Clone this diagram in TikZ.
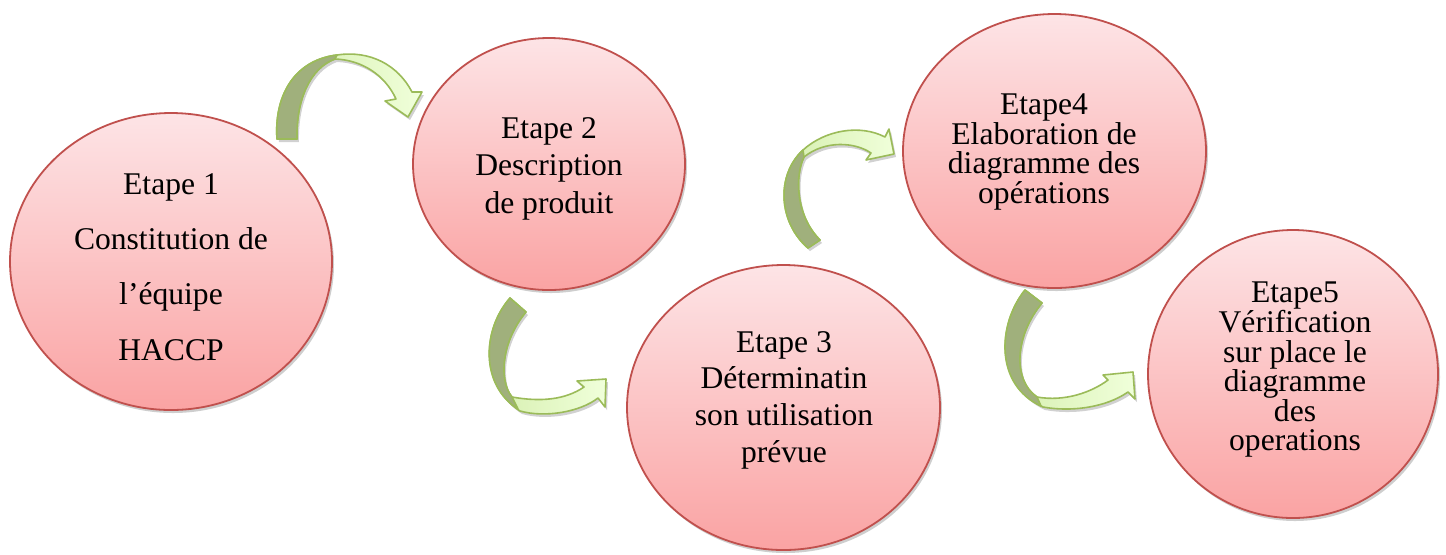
\documentclass[tikz,border=0pt]{standalone}
\usepackage{fontspec}
\setmainfont{Liberation Serif}
\usetikzlibrary{shapes.geometric}
\definecolor{cborder}{RGB}{192,80,77}
\definecolor{ctop}{RGB}{253,228,230}
\definecolor{cbot}{RGB}{250,163,163}
\definecolor{aline}{RGB}{155,187,89}
\definecolor{adark}{RGB}{160,176,124}
\definecolor{alightA}{RGB}{212,238,172}
\definecolor{alightB}{RGB}{240,255,218}
\newcommand\arrowoneout{(277,139) .. controls (274,95) and (295,60) .. (337,55) .. controls (370,50) and (398,65) .. (412,92) -- (422,92) -- (408,117) -- (385,101) -- (396,99) .. controls (385,75) and (362,60) .. (335,59) .. controls (310,68) and (296,100) .. (297,139) -- cycle}
\newcommand\arrowonedark{(277,139) .. controls (274,95) and (295,60) .. (337,55) -- (335,59) .. controls (310,68) and (296,100) .. (297,139) -- cycle}
\newcommand\arrowtwoout{(510,298) .. controls (482,330) and (480,385) .. (520,411) .. controls (545,418) and (580,412) .. (598,398) -- (605,407) -- (606,379) -- (577,381) -- (584,387) .. controls (565,400) and (540,402) .. (512,397) .. controls (498,380) and (502,340) .. (526,312) -- cycle}
\newcommand\arrowtwodark{(510,298) .. controls (482,330) and (480,385) .. (518,409) -- (512,397) .. controls (498,380) and (502,340) .. (526,312) -- cycle}
\newcommand\arrowthreeout{(808,248) .. controls (778,222) and (776,175) .. (803,150) .. controls (825,130) and (860,124) .. (885,137) -- (889,129) -- (894,154) -- (866,160) -- (871,153) .. controls (855,142) and (825,140) .. (804,157) .. controls (795,175) and (795,215) .. (820,240) -- cycle}
\newcommand\arrowthreedark{(808,248) .. controls (778,222) and (776,175) .. (803,150) -- (804,157) .. controls (795,175) and (795,215) .. (820,240) -- cycle}
\newcommand\arrowfourout{(1025,290) .. controls (997,325) and (995,385) .. (1043,407) .. controls (1070,412) and (1105,408) .. (1128,392) -- (1135,399) -- (1133,372) -- (1103,375) -- (1108,380) .. controls (1092,392) and (1065,402) .. (1037,397) .. controls (1012,380) and (1015,335) .. (1042,303) -- cycle}
\newcommand\arrowfourdark{(1025,290) .. controls (997,325) and (995,385) .. (1041,406) -- (1037,397) .. controls (1012,380) and (1015,335) .. (1042,303) -- cycle}
\begin{document}
\begin{tikzpicture}[x=0.5pt,y=-0.5pt,
  stepcircle/.style={ellipse, draw=cborder, line width=0.9pt, top color=ctop, bottom color=cbot, inner sep=0pt},
  stepshadow/.style={ellipse, fill=black!55, opacity=0.35, inner sep=0pt},
  steptext/.style={align=center, inner sep=0pt, font=\fontsize{15.8}{#1}\selectfont},
  arrowshade/.style={left color=alightA, right color=alightB, draw=aline, line width=0.8pt, line join=round},
  arrowback/.style={fill=adark, draw=aline, line width=0.8pt, line join=round},
  arrowshadow/.style={fill=black!60, opacity=0.3}]
\useasboundingbox (0,0) rectangle (1446,554);
% shadows of circles
\node[stepshadow, minimum width=161pt, minimum height=148.5pt] (s1) at (173,264.5) {};
\node[stepshadow, minimum width=136pt, minimum height=126pt] (s2) at (551,167) {};
\node[stepshadow, minimum width=156.5pt, minimum height=142.5pt] (s3) at (785.5,410.5) {};
\node[stepshadow, minimum width=151.5pt, minimum height=137pt] (s4) at (1056.5,154) {};
\node[stepshadow, minimum width=145pt, minimum height=144pt] (s5) at (1295,377) {};
% circles
\node[stepcircle, minimum width=161pt, minimum height=148.5pt] (c1) at (171,261.5) {};
\node[stepcircle, minimum width=136pt, minimum height=126pt] (c2) at (549,164) {};
\node[stepcircle, minimum width=156.5pt, minimum height=142.5pt] (c3) at (783.5,407.5) {};
\node[stepcircle, minimum width=151.5pt, minimum height=137pt] (c4) at (1054.5,151) {};
\node[stepcircle, minimum width=145pt, minimum height=144pt] (c5) at (1293,374) {};
% texts
\node[steptext=27.6pt] (t1) at (171,267) {Etape 1\\Constitution de\\l’équipe\\HACCP};
\node[steptext=18.75pt] (t2) at (549,168.5) {Etape 2\\Description\\de produit};
\node[steptext=18.3pt] (t3) at (784,400) {Etape 3\\Déterminatin\\son utilisation\\prévue};
\node[steptext=14.8pt] (t4) at (1044,152) {Etape4\\Elaboration de\\diagramme des\\opérations};
\node[steptext=14.8pt] (t5) at (1295,370) {Etape5\\Vérification\\sur place le\\diagramme\\des\\operations};
% arrow shadows
\begin{scope}[shift={(2,3)}]
\fill[arrowshadow] \arrowoneout;
\fill[arrowshadow] \arrowtwoout;
\fill[arrowshadow] \arrowthreeout;
\fill[arrowshadow] \arrowfourout;
\end{scope}
% arrows
\path[arrowshade] \arrowoneout;
\path[arrowback] \arrowonedark;
\path[arrowshade] \arrowtwoout;
\path[arrowback] \arrowtwodark;
\path[arrowshade] \arrowthreeout;
\path[arrowback] \arrowthreedark;
\path[arrowshade] \arrowfourout;
\path[arrowback] \arrowfourdark;
\end{tikzpicture}
\end{document}
